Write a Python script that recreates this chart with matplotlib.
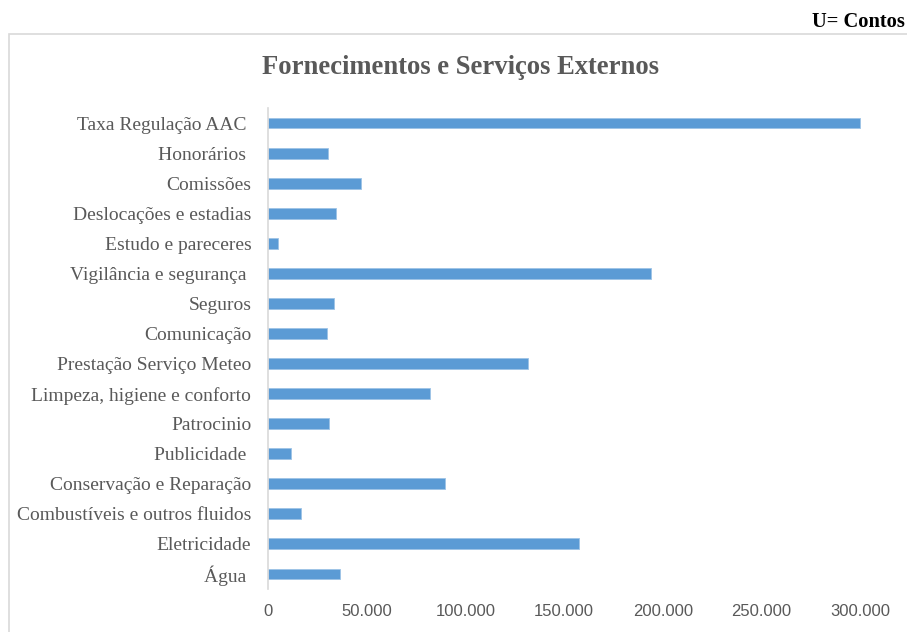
import matplotlib.pyplot as plt
from matplotlib.patches import Rectangle
from matplotlib.ticker import FuncFormatter

# ------------------------------
# Dados (U = Contos)
# ------------------------------
categorias = [
    "Taxa Regulação AAC ",
    "Honorários ",
    "Comissões",
    "Deslocações e estadias",
    "Estudo e pareceres",
    "Vigilância e segurança ",
    "Seguros",
    "Comunicação",
    "Prestação Serviço Meteo",
    "Limpeza, higiene e conforto",
    "Patrocinio",
    "Publicidade ",
    "Conservação e Reparação",
    "Combustíveis e outros fluidos",
    "Eletricidade",
    "Água ",
]
valores = [
    300100, 30400, 47000, 34400, 5100, 194200, 33600, 30100,
    131900, 81900, 30700, 11500, 89700, 16700, 157400, 36500,
]
ticks_x = [0, 50000, 100000, 150000, 200000, 250000, 300000]

cinza = "#595959"
azul = "#5B9BD5"

fig = plt.figure(figsize=(9.07, 6.32), dpi=100)

# moldura do gráfico (corta nas bordas direita e inferior)
fig.patches.append(Rectangle((9 / 907, -0.1), 1.2, 1 - 34 / 632 + 0.1,
                             transform=fig.transFigure, fill=False,
                             edgecolor="#d9d9d9", linewidth=1.2))

ax = fig.add_axes([268 / 907, 1 - 589 / 632, 691 / 907, 481 / 632])
ax.patch.set_alpha(0)

posicoes = list(range(len(categorias)))[::-1]
ax.barh(posicoes, valores, height=0.36, color=azul,
        edgecolor="#9DC3E6", linewidth=0.6)

ax.set_xlim(0, 350000)
ax.set_ylim(-0.5, len(categorias) - 0.5)
ax.set_yticks(posicoes)
ax.set_yticklabels(categorias, family="Liberation Serif", fontsize=14, color=cinza)
ax.set_xticks(ticks_x)
ax.xaxis.set_major_formatter(FuncFormatter(lambda x, _: f"{x:,.0f}".replace(",", ".")))
for lbl in ax.get_xticklabels():
    lbl.set_family("Liberation Sans")
    lbl.set_fontsize(12)
    lbl.set_color(cinza)

ax.tick_params(axis="both", length=0)
ax.tick_params(axis="y", pad=12)
ax.tick_params(axis="x", pad=11)

for lado in ["top", "right", "bottom"]:
    ax.spines[lado].set_visible(False)
ax.spines["left"].set_color("#d9d9d9")
ax.spines["left"].set_linewidth(1.2)

fig.text(461 / 907, 1 - 68 / 632, "Fornecimentos e Serviços Externos",
         family="Liberation Serif", fontweight="bold", fontsize=19.2,
         color=cinza, ha="center", va="center")
fig.text(905 / 907, 1 - 22 / 632, "U= Contos", family="Liberation Serif",
         fontweight="bold", fontsize=14.8, color="black", ha="right", va="center")

fig.savefig("out.png", dpi=100)
